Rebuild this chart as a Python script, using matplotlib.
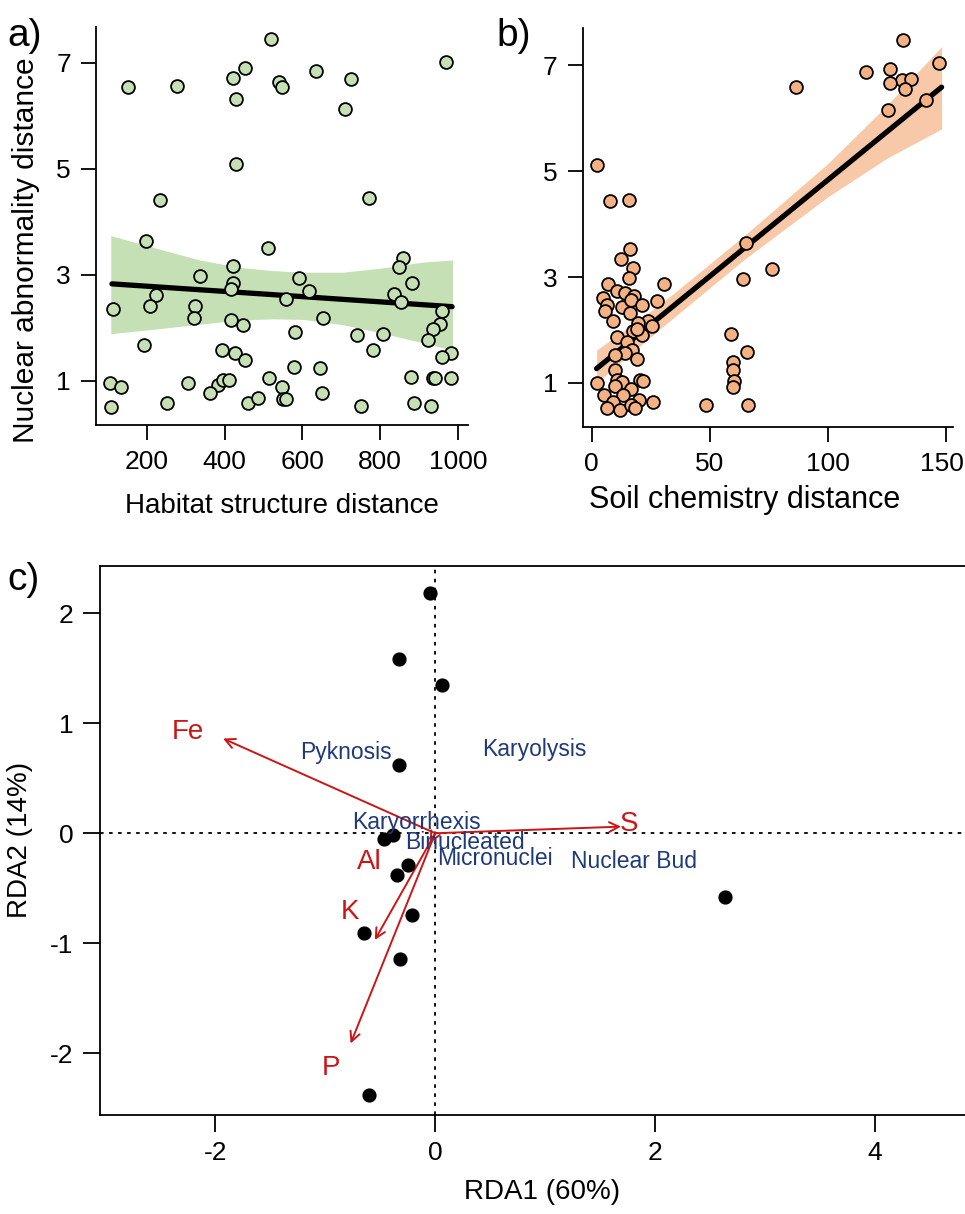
import matplotlib
matplotlib.use('Agg')
import matplotlib.pyplot as plt
import matplotlib.transforms as mtransforms
import numpy as np

plt.rcParams['font.family'] = ['Liberation Sans', 'DejaVu Sans']
plt.rcParams['axes.unicode_minus'] = False

# ---- panel a: habitat structure distance vs nuclear abnormality distance
hab_x = [150, 278, 421, 451, 518, 430, 540, 548, 634, 725, 710, 969, 430, 233, 770,
         197, 511, 860, 849, 421, 336, 591, 883, 421, 417, 616, 223, 835, 854, 558,
         208, 323, 112, 321, 652, 960, 415, 447, 954, 935, 580, 740, 806, 922, 193,
         782, 393, 426, 982, 451, 960, 579, 646, 105, 133, 306, 383, 396, 411, 514,
         879, 935, 942, 982, 548, 362, 550, 558, 651, 252, 461, 486, 107, 751, 888, 931]
hab_y = [6.54, 6.57, 6.72, 6.91, 7.45, 6.32, 6.64, 6.54, 6.85, 6.69, 6.13, 7.01, 5.10, 4.42, 4.44,
         3.64, 3.51, 3.32, 3.14, 3.17, 2.98, 2.94, 2.85, 2.85, 2.73, 2.70, 2.62, 2.64, 2.48, 2.54,
         2.42, 2.42, 2.36, 2.18, 2.18, 2.32, 2.14, 2.05, 2.08, 1.98, 1.92, 1.87, 1.89, 1.77, 1.68,
         1.58, 1.58, 1.52, 1.52, 1.40, 1.46, 1.27, 1.24, 0.96, 0.89, 0.96, 0.92, 1.02, 1.02, 1.05,
         1.08, 1.05, 1.05, 1.05, 0.89, 0.77, 0.65, 0.65, 0.77, 0.58, 0.58, 0.67, 0.50, 0.52, 0.58, 0.52]
hab_fit_x = [110, 985]
hab_fit_y = [2.83, 2.40]
hab_band_x = [107, 225, 336, 439, 524, 601, 704, 806, 909, 986]
hab_band_hi = [3.74, 3.50, 3.28, 3.14, 3.08, 3.05, 3.05, 3.13, 3.24, 3.28]
hab_band_lo = [1.89, 1.98, 2.07, 2.15, 2.17, 2.16, 2.06, 1.90, 1.72, 1.58]

# ---- panel b: soil chemistry distance vs nuclear abnormality distance
soil_x = [131.8, 146.9, 116.2, 126.1, 131.4, 135.2, 132.5, 126.1, 86.3, 141.5, 125.4, 2.1,
          7.8, 15.9, 65.3, 16.2, 12.3, 17.4, 15.9, 76.3, 64.2, 7.1, 30.8, 10.6, 14.2, 4.9,
          17.9, 6.4, 12.7, 16.7, 21.2, 27.8, 5.6, 16.2, 9.2, 24.0, 19.8, 25.4, 17.4, 21.2,
          10.6, 58.9, 15.1, 16.9, 14.1, 9.9, 19.1, 65.9, 60.0, 60.0, 60.3, 59.6, 9.9, 10.8,
          20.5, 21.9, 12.7, 2.1, 9.9, 16.7, 5.3, 13.4, 20.2, 26.1, 8.9, 6.4, 12.0, 16.7,
          18.3, 48.3, 66.1, 19.3]
soil_y = [7.48, 7.04, 6.88, 6.94, 6.72, 6.75, 6.56, 6.67, 6.59, 6.34, 6.16, 5.12,
          4.43, 4.46, 3.65, 3.53, 3.34, 3.18, 2.99, 3.15, 2.96, 2.86, 2.86, 2.74, 2.70, 2.61,
          2.64, 2.48, 2.44, 2.56, 2.48, 2.55, 2.36, 2.33, 2.17, 2.17, 2.14, 2.07, 1.98, 1.90,
          1.86, 1.92, 1.77, 1.63, 1.56, 1.52, 1.46, 1.58, 1.40, 1.25, 1.04, 0.92, 1.24, 1.06,
          1.05, 1.04, 1.02, 0.99, 0.94, 0.89, 0.77, 0.77, 0.67, 0.64, 0.64, 0.52, 0.48, 0.58,
          0.52, 0.58, 0.58, 2.01]
soil_fit_x = [2.1, 148]
soil_fit_y = [1.27, 6.59]
soil_band_x = [2.1, 30, 65, 100, 125, 148]
soil_band_hi = [1.62, 2.52, 3.80, 5.15, 6.25, 7.36]
soil_band_lo = [1.00, 2.06, 3.35, 4.52, 5.25, 5.80]

# ---- panel c: RDA biplot
site_x = [-0.05, -0.33, 0.06, -0.33, -0.47, -0.38, -0.25, -0.35, -0.21, -0.65, -0.32, -0.60, 2.64]
site_y = [2.18, 1.58, 1.35, 0.62, -0.05, -0.02, -0.29, -0.38, -0.74, -0.91, -1.14, -2.38, -0.58]
env_names = ['Fe', 'S', 'Al', 'K', 'P']
env_x = [-1.93, 1.69, -0.05, -0.55, -0.77]
env_y = [0.86, 0.06, -0.09, -0.97, -1.91]
env_lab_x = [-2.25, 1.76, -0.60, -0.78, -0.95]
env_lab_y = [0.92, 0.08, -0.26, -0.72, -2.13]
sp_names = ['Pyknosis', 'Karyolysis', 'Karyorrhexis', 'Binucleated', 'Micronuclei', 'Nuclear Bud']
sp_x = [-0.81, 0.90, -0.17, 0.27, 0.54, 1.81]
sp_y = [0.73, 0.76, 0.10, -0.08, -0.23, -0.26]

green = '#C5E0B4'
orange = '#F4B183'
red = '#CC1616'
navy = '#1F3A7A'

fig = plt.figure(figsize=(9.65, 12.14), dpi=100)

def style_scatter_axes(ax):
    ax.spines['top'].set_visible(False)
    ax.spines['right'].set_visible(False)
    for s in ['left', 'bottom']:
        ax.spines[s].set_linewidth(1.3)
    ax.tick_params(direction='out', length=11, width=1.3, labelsize=19, pad=7)
    ax.set_yticks([1, 3, 5, 7])

ax1 = fig.add_axes([0.0995, 0.650, 0.3855, 0.328])
ax1.fill_between(hab_band_x, hab_band_lo, hab_band_hi, color=green, lw=0, zorder=1)
ax1.plot(hab_fit_x, hab_fit_y, color='black', lw=3.8, solid_capstyle='round', zorder=2)
ax1.scatter(hab_x, hab_y, s=85, facecolor=green, edgecolor='black', linewidths=1.3, zorder=3)
ax1.set_xlim(69, 1026)
ax1.set_ylim(0.17, 7.68)
ax1.set_xticks([200, 400, 600, 800, 1000])
style_scatter_axes(ax1)
ax1.set_xlabel('Habitat structure distance', fontsize=20, labelpad=14)
ax1.set_ylabel('Nuclear abnormality distance', fontsize=21.5)
ax1.yaxis.set_label_coords(-0.15, 0.44)

ax2 = fig.add_axes([0.604, 0.648, 0.384, 0.329])
ax2.fill_between(soil_band_x, soil_band_lo, soil_band_hi, color='#F8C9A8', lw=0, zorder=1)
ax2.plot(soil_fit_x, soil_fit_y, color='black', lw=3.8, solid_capstyle='round', zorder=2)
ax2.scatter(soil_x, soil_y, s=85, facecolor=orange, edgecolor='black', linewidths=1.3, zorder=3)
ax2.set_xlim(-3.7, 153)
ax2.set_ylim(0.16, 7.71)
ax2.set_xticks([0, 50, 100, 150])
style_scatter_axes(ax2)
ax2.set_xlabel('Soil chemistry distance', fontsize=22, labelpad=12)
ax2.xaxis.set_label_coords(0.437, -0.145)
# nudge the last tick label so it stays inside the figure
last = ax2.get_xticklabels()[-1]
last.set_transform(last.get_transform() +
                   mtransforms.ScaledTranslation(-4 / 100, 0, fig.dpi_scale_trans))

ax3 = fig.add_axes([0.1036, 0.0815, 0.917, 0.4525])
ax3.axhline(0, color='black', ls=(0, (2, 3)), lw=1.3, zorder=1)
ax3.axvline(0, color='black', ls=(0, (2, 3)), lw=1.3, zorder=1)
ax3.scatter(site_x, site_y, s=85, color='black', zorder=3)
for ex, ey in zip(env_x, env_y):
    ax3.annotate('', xy=(ex, ey), xytext=(0, 0),
                 arrowprops=dict(arrowstyle='->,head_length=0.7,head_width=0.35',
                                 color=red, lw=1.4, shrinkA=0, shrinkB=0), zorder=2)
for name, lx, ly in zip(env_names, env_lab_x, env_lab_y):
    ax3.text(lx, ly, name, color=red, fontsize=20, ha='center', va='center', zorder=4)
for name, lx, ly in zip(sp_names, sp_x, sp_y):
    ax3.text(lx, ly, name, color=navy, fontsize=16.5, ha='center', va='center', zorder=4)
ax3.set_xlim(-3.05, 5.0)
ax3.set_ylim(-2.56, 2.43)
ax3.set_xticks([-2, 0, 2, 4])
ax3.set_yticks([-2, -1, 0, 1, 2])
for s in ax3.spines.values():
    s.set_linewidth(1.3)
ax3.tick_params(direction='out', length=12, width=1.3, labelsize=19, pad=7)
ax3.set_xlabel('RDA1 (60%)', fontsize=20, labelpad=10)
ax3.set_ylabel('RDA2 (14%)', fontsize=20, labelpad=12)

fig.text(0.008, 0.970, 'a)', fontsize=28, ha='left', va='center')
fig.text(0.515, 0.970, 'b)', fontsize=28, ha='left', va='center')
fig.text(0.008, 0.522, 'c)', fontsize=28, ha='left', va='center')

fig.savefig('out.png', dpi=100)
